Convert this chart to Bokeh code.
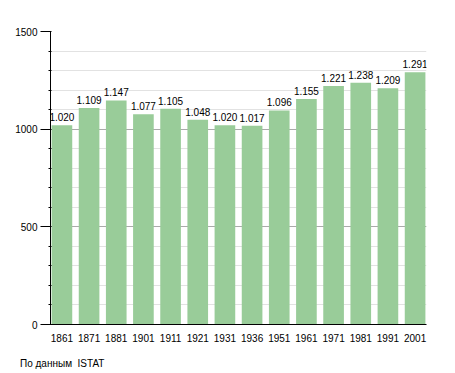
from bokeh.plotting import figure
from bokeh.models import ColumnDataSource, Range1d, FixedTicker, LabelSet, Div
from bokeh.layouts import column
from bokeh.core.properties import value
from bokeh.embed import file_html
from bokeh.resources import INLINE

years = ["1861", "1871", "1881", "1901", "1911", "1921", "1931", "1936",
         "1951", "1961", "1971", "1981", "1991", "2001"]
population = [1020, 1109, 1147, 1077, 1105, 1048, 1020, 1017,
              1096, 1155, 1221, 1238, 1209, 1291]
y_ticks = [0, 500, 1000, 1500]
source_note = "По данным&nbsp; ISTAT"

FONT = "Liberation Sans"

xs = list(range(len(years)))
labels = ["{:,}".format(v).replace(",", ".") for v in population]
src = ColumnDataSource(dict(x=xs, top=population, label=labels))

p = figure(width=447, height=345, output_backend="svg", toolbar_location=None,
           x_range=Range1d(-0.42, len(years) - 1 + 0.42), y_range=Range1d(0, 1500),
           min_border_left=50, min_border_right=21, min_border_top=31, min_border_bottom=21)
p.outline_line_color = None
p.background_fill_color = "white"

p.vbar(x="x", top="top", width=0.76, source=src, fill_color="#99cc99", line_color=None)

p.add_layout(LabelSet(x="x", y="top", text="label", source=src, text_align="center",
                      text_baseline="bottom", y_offset=4, text_font=value(FONT),
                      text_font_size=value("10px"), text_color=value("black")))

# axes
p.xaxis.ticker = FixedTicker(ticks=xs)
p.xaxis.major_label_overrides = {i: y for i, y in enumerate(years)}
p.xaxis.major_tick_line_color = None
p.xaxis.minor_tick_line_color = None
p.xaxis.axis_line_color = "black"
p.xaxis.major_label_standoff = 3
p.xaxis.major_label_text_font = FONT
p.xaxis.major_label_text_font_size = "10px"
p.xaxis.major_label_text_color = "black"

p.yaxis.ticker = FixedTicker(ticks=y_ticks, minor_ticks=list(range(0, 1501, 100)))
p.yaxis.axis_line_color = "black"
p.yaxis.major_tick_out = 10
p.yaxis.major_tick_in = 0
p.yaxis.minor_tick_out = 2
p.yaxis.minor_tick_in = 1
p.yaxis.major_tick_line_color = "black"
p.yaxis.minor_tick_line_color = "black"
p.yaxis.major_label_standoff = 3
p.yaxis.major_label_text_font = FONT
p.yaxis.major_label_text_font_size = "10px"
p.yaxis.major_label_text_color = "black"

p.xgrid.grid_line_color = None
p.ygrid.grid_line_color = "#aaaaaa"
p.ygrid.minor_grid_line_color = "#e2e2e2"

note = Div(text=source_note, width=200, margin=(13, 0, 0, 20),
           styles={"font-family": FONT, "font-size": "10px", "color": "black",
                   "line-height": "12px"})

layout = column(p, note, spacing=0)

open("out.html", "w").write(file_html(layout, INLINE))
